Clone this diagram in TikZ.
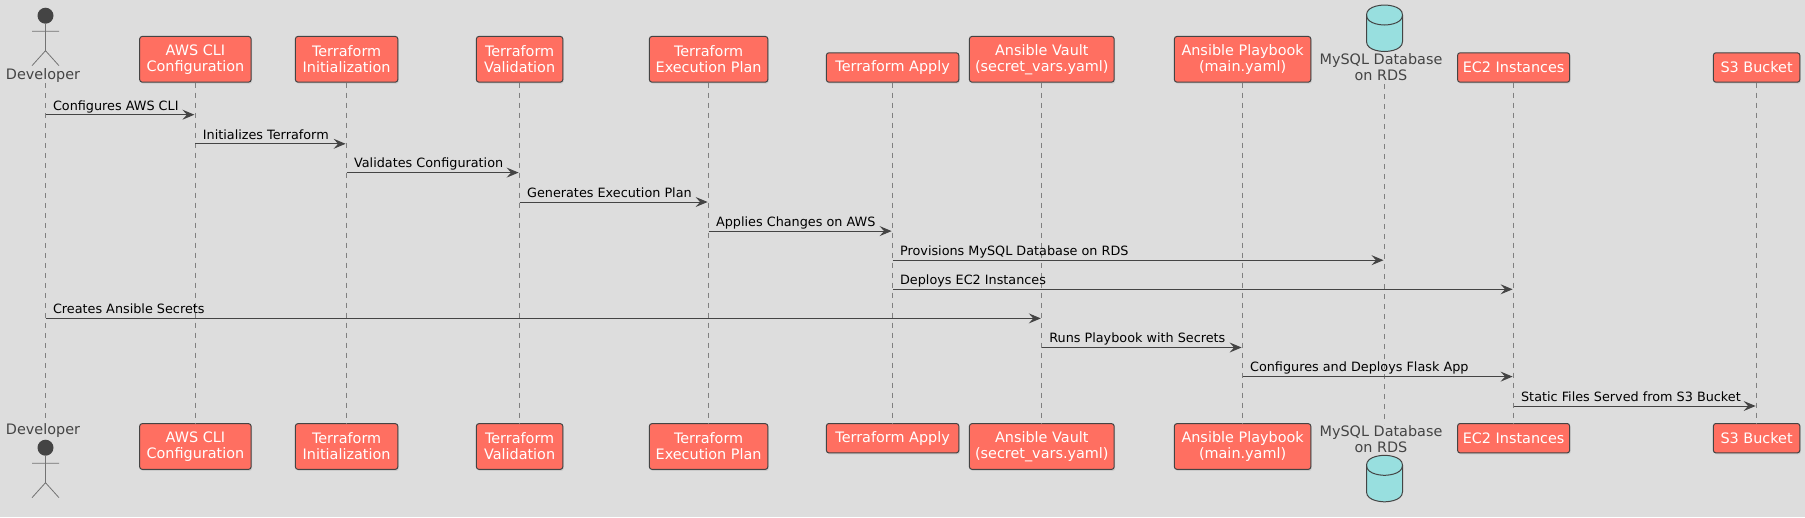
\documentclass[tikz,border=0pt]{standalone}
\usepackage{fontspec}
\setmainfont{DejaVu Sans}
\usetikzlibrary{arrows.meta, shadows}
\definecolor{bggray}{HTML}{DDDDDD}
\definecolor{boxred}{HTML}{FF6F61}
\definecolor{dbteal}{HTML}{98DFDF}
\definecolor{inkgray}{HTML}{444444}
\tikzstyle{partbox}=[shape=rectangle,draw=inkgray,fill=boxred,text=white,line width=1pt,rounded corners=2.5pt,align=center,inner xsep=2pt,inner ysep=0pt,font=\fontsize{14.4}{16}\selectfont,drop shadow={shadow xshift=1pt,shadow yshift=-1.5pt,opacity=0.2}]
\tikzstyle{tallbox}=[partbox,minimum height=45.7pt]
\tikzstyle{flatbox}=[partbox,minimum height=29.4pt]
\tikzstyle{partlabel}=[text=inkgray,align=center,inner sep=0pt,font=\fontsize{14.4}{16}\selectfont]
\tikzstyle{lifeline}=[draw=black!50,line width=0.8pt,dash pattern=on 5pt off 5pt]
\tikzstyle{mainedge}=[draw=inkgray,line width=1pt,shorten >=1pt,-{Stealth[length=12pt,width=10pt,inset=4.5pt]}]
\tikzstyle{msgtext}=[anchor=base west,inner sep=0pt,xshift=7pt,yshift=4.7pt,text=black,font=\fontsize{12.8}{15}\selectfont]
\tikzstyle{dbshape}=[draw=inkgray,line width=1pt,fill=dbteal]
\newcommand{\stickman}[2]{
\fill[inkgray] (#1,#2) circle (8pt);
\draw[black!55,line width=0.8pt] (#1,#2+8) -- (#1,#2+35) (#1-13.5,#2+15.5) -- (#1+13.5,#2+15.5) (#1-13.5,#2+50) -- (#1,#2+35) -- (#1+13.5,#2+50);
}
\newcommand{\dbdrum}[2]{
\draw[dbshape] (#1-18,#2+10) .. controls (#1-18,#2) and (#1,#2) .. (#1,#2) .. controls (#1,#2) and (#1+18,#2) .. (#1+18,#2+10) -- (#1+18,#2+36.5) .. controls (#1+18,#2+46.5) and (#1,#2+46.5) .. (#1,#2+46.5) .. controls (#1,#2+46.5) and (#1-18,#2+46.5) .. (#1-18,#2+36.5) -- cycle;
\draw[dbshape,fill=none] (#1-18,#2+10) .. controls (#1-18,#2+20) and (#1,#2+20) .. (#1,#2+20) .. controls (#1,#2+20) and (#1+18,#2+20) .. (#1+18,#2+10);
}

\begin{document}
\begin{tikzpicture}[x=1pt,y=-1pt]
\useasboundingbox (0,0) rectangle (1805,517);
\fill[bggray] (0,0) rectangle (1805,517);

% top row
\stickman{45.5}{15.7}
\node[partlabel] (devname_t) at (43,75.3) {Developer};
\coordinate (dev_t) at (45.5,83);
\node[tallbox,minimum width=111.4pt] (aws_t) at (195.4,59.3) {AWS CLI\\Configuration};
\node[tallbox,minimum width=102.4pt] (init_t) at (346.6,59.3) {Terraform\\Initialization};
\node[tallbox,minimum width=86.4pt] (val_t) at (519.6,59.3) {Terraform\\Validation};
\node[tallbox,minimum width=118.4pt] (plan_t) at (708.6,59.3) {Terraform\\Execution Plan};
\node[flatbox,minimum width=132.4pt] (apply_t) at (892.6,67.5) {Terraform Apply};
\node[tallbox,minimum width=144.7pt] (vault_t) at (1041.8,59.3) {Ansible Vault\\(secret\_vars.yaml)};
\node[tallbox,minimum width=136.4pt] (book_t) at (1242.6,59.3) {Ansible Playbook\\(main.yaml)};
\dbdrum{1384.5}{5}
\node[partlabel] (dbname_t) at (1381,67) {MySQL Database\\on RDS};
\coordinate (db_t) at (1384.5,84);
\node[flatbox,minimum width=112pt] (ec2_t) at (1513.6,67.5) {EC2 Instances};
\node[flatbox,minimum width=86.4pt] (s3_t) at (1756.6,67.5) {S3 Bucket};

% bottom row
\stickman{45.5}{447.7}
\node[partlabel] (devname_b) at (43,431) {Developer};
\coordinate (dev_b) at (45.5,423);
\node[tallbox,minimum width=111.4pt] (aws_b) at (195.4,446.5) {AWS CLI\\Configuration};
\node[tallbox,minimum width=102.4pt] (init_b) at (346.6,446.5) {Terraform\\Initialization};
\node[tallbox,minimum width=86.4pt] (val_b) at (519.6,446.5) {Terraform\\Validation};
\node[tallbox,minimum width=118.4pt] (plan_b) at (708.6,446.5) {Terraform\\Execution Plan};
\node[flatbox,minimum width=132.4pt] (apply_b) at (892.6,438.2) {Terraform Apply};
\node[tallbox,minimum width=144.7pt] (vault_b) at (1041.8,446.5) {Ansible Vault\\(secret\_vars.yaml)};
\node[tallbox,minimum width=136.4pt] (book_b) at (1242.6,446.5) {Ansible Playbook\\(main.yaml)};
\node[partlabel] (dbname_b) at (1381,439) {MySQL Database\\on RDS};
\coordinate (db_b) at (1384.5,424);
\dbdrum{1384.5}{455.3}
\node[flatbox,minimum width=112pt] (ec2_b) at (1513.6,438.2) {EC2 Instances};
\node[flatbox,minimum width=86.4pt] (s3_b) at (1756.6,438.2) {S3 Bucket};

% lifelines
\draw[lifeline] (dev_t) -- (dev_b);
\draw[lifeline] (aws_t) -- (aws_b);
\draw[lifeline] (init_t) -- (init_b);
\draw[lifeline] (val_t) -- (val_b);
\draw[lifeline] (plan_t) -- (plan_b);
\draw[lifeline] (apply_t) -- (apply_b);
\draw[lifeline] (vault_t) -- (vault_b);
\draw[lifeline] (book_t) -- (book_b);
\draw[lifeline] (db_t) -- (db_b);
\draw[lifeline] (ec2_t) -- (ec2_b);
\draw[lifeline] (s3_t) -- (s3_b);

% message rows
\coordinate (r1) at (0,114.7);
\coordinate (r2) at (0,143.8);
\coordinate (r3) at (0,172.6);
\coordinate (r4) at (0,202);
\coordinate (r5) at (0,231.1);
\coordinate (r6) at (0,260.2);
\coordinate (r7) at (0,289.3);
\coordinate (r8) at (0,318.4);
\coordinate (r9) at (0,347.5);
\coordinate (r10) at (0,376.6);
\coordinate (r11) at (0,406);

\draw[mainedge] (dev_t |- r1) -- node[msgtext,pos=0] (m1) {Configures AWS CLI} (aws_t |- r1);
\draw[mainedge] (aws_t |- r2) -- node[msgtext,pos=0] (m2) {Initializes Terraform} (init_t |- r2);
\draw[mainedge] (init_t |- r3) -- node[msgtext,pos=0] (m3) {Validates Configuration} (val_t |- r3);
\draw[mainedge] (val_t |- r4) -- node[msgtext,pos=0] (m4) {Generates Execution Plan} (plan_t |- r4);
\draw[mainedge] (plan_t |- r5) -- node[msgtext,pos=0] (m5) {Applies Changes on AWS} (apply_t |- r5);
\draw[mainedge] (apply_t |- r6) -- node[msgtext,pos=0] (m6) {Provisions MySQL Database on RDS} (db_t |- r6);
\draw[mainedge] (apply_t |- r7) -- node[msgtext,pos=0] (m7) {Deploys EC2 Instances} (ec2_t |- r7);
\draw[mainedge] (dev_t |- r8) -- node[msgtext,pos=0] (m8) {Creates Ansible Secrets} (vault_t |- r8);
\draw[mainedge] (vault_t |- r9) -- node[msgtext,pos=0] (m9) {Runs Playbook with Secrets} (book_t |- r9);
\draw[mainedge] (book_t |- r10) -- node[msgtext,pos=0] (m10) {Configures and Deploys Flask App} (ec2_t |- r10);
\draw[mainedge] (ec2_t |- r11) -- node[msgtext,pos=0] (m11) {Static Files Served from S3 Bucket} (s3_t |- r11);

\end{tikzpicture}
\end{document}
